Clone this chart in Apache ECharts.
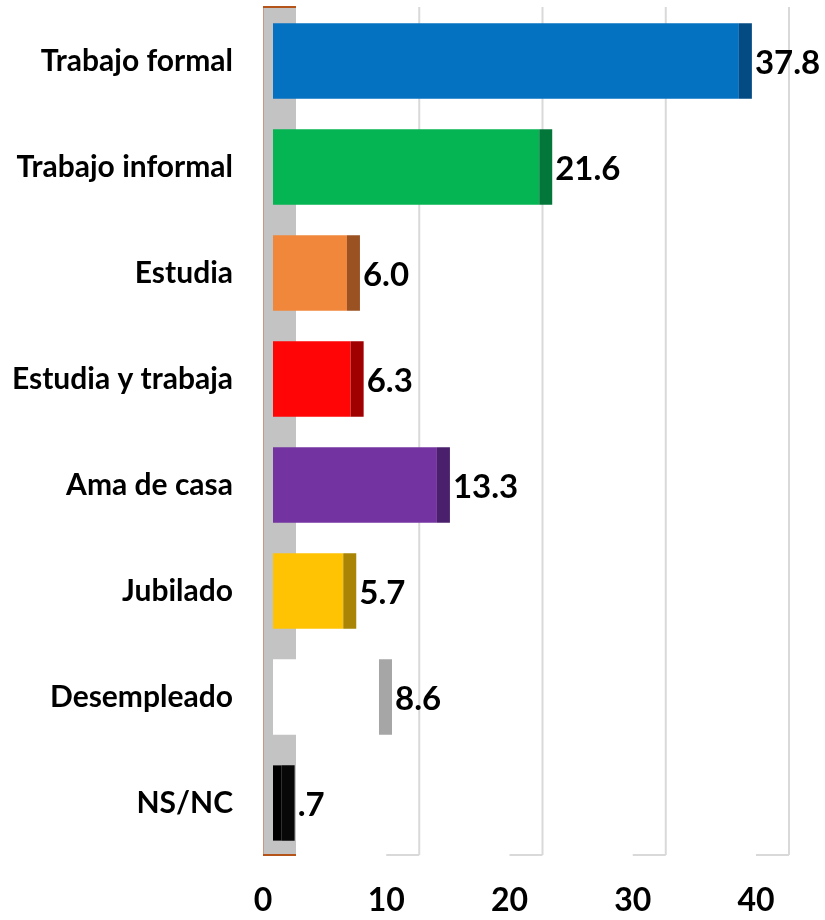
<!DOCTYPE html>
<html>
<head>
<meta charset="utf-8">
<style>
  html, body { margin: 0; padding: 0; background: #ffffff; }
  #chart { width: 825px; height: 920px; }
</style>
<script src="https://cdn.jsdelivr.net/npm/echarts@6/dist/echarts.min.js"></script>
</head>
<body>
<div id="chart"></div>
<script>
// Situación laboral (%)
const categories = ['Trabajo formal', 'Trabajo informal', 'Estudia', 'Estudia y trabaja',
                    'Ama de casa', 'Jubilado', 'Desempleado', 'NS/NC'];
const values = [37.8, 21.6, 6.0, 6.3, 13.3, 5.7, 8.6, 0.7];
const faceColors = ['#0571c1', '#05b452', '#f0873a', '#ff0505', '#7333a0', '#ffc304', '#ffffff', '#000000'];
const capColors  = ['#034b82', '#03773a', '#9a5222', '#a10000', '#4a1f6c', '#a98405', '#a6a6a6', '#080808'];
const xTicks = [0, 10, 20, 30, 40];

const FONT = 'Lato';
const DEPTH = 33;      // horizontal depth of the pseudo-3D wall
const BAR_OFF = 10;    // bar front face offset inside the depth
const CAP_W = 13;      // width of the darker end face
const BAR_FRAC = 0.71; // bar thickness relative to the category band

function fmt(v) {
  return v.toFixed(1).replace(/^0\./, '.');
}

const chart = echarts.init(document.getElementById('chart'), null, { renderer: 'canvas' });

chart.setOption({
  animation: false,
  backgroundColor: '#ffffff',
  grid: { left: 263, right: 69, top: 8, bottom: 64, containLabel: false },
  xAxis: {
    type: 'value', min: 0, max: 40, interval: 10,
    axisLine: { show: false }, axisTick: { show: false }, splitLine: { show: false },
    axisLabel: { color: '#000', fontFamily: FONT, fontWeight: 'bold', fontSize: 32, margin: 29 }
  },
  yAxis: {
    type: 'category', data: categories, inverse: true,
    axisLine: { show: false }, axisTick: { show: false }, splitLine: { show: false },
    axisLabel: { color: '#000', fontFamily: FONT, fontWeight: 'bold', fontSize: 30, margin: 30 }
  },
  series: [
    {
      // back wall gridlines and floor edges
      type: 'custom', name: 'grid', silent: true, z: 1,
      data: xTicks.map(t => [t]),
      encode: { x: 0 },
      renderItem: function (params, api) {
        const cs = params.coordSys;
        const xf = api.coord([api.value(0), 0])[0];
        const xb = xf + DEPTH;
        const top = cs.y - 1, bot = cs.y + cs.height - 1;
        if (api.value(0) === 0) {
          return {
            type: 'group',
            children: [
              { type: 'rect', shape: { x: xf, y: top, width: DEPTH, height: bot - top },
                style: { fill: '#c3c3c3' } },
              { type: 'line', shape: { x1: xf + 0.5, y1: top, x2: xf + 0.5, y2: bot },
                style: { stroke: '#c79a80', lineWidth: 1 } },
              { type: 'line', shape: { x1: xf, y1: top, x2: xb, y2: top },
                style: { stroke: '#b5541a', lineWidth: 2 } },
              { type: 'line', shape: { x1: xf, y1: bot, x2: xb, y2: bot },
                style: { stroke: '#b5541a', lineWidth: 2 } }
            ]
          };
        }
        return {
          type: 'group',
          children: [
            { type: 'line', shape: { x1: xb, y1: top, x2: xb, y2: bot },
              style: { stroke: '#d9d9d9', lineWidth: 2 } },
            { type: 'line', shape: { x1: xf, y1: bot, x2: xb, y2: bot },
              style: { stroke: '#d9d9d9', lineWidth: 2 } }
          ]
        };
      }
    },
    {
      type: 'custom', name: 'Situación', z: 2,
      data: values.map((v, i) => [v, i]),
      encode: { x: 0, y: 1 },
      renderItem: function (params, api) {
        const i = params.dataIndex;
        const v = api.value(0);
        const p0 = api.coord([0, api.value(1)]);
        const p1 = api.coord([v, api.value(1)]);
        const band = api.size([0, 1])[1];
        const h = band * BAR_FRAC;
        const y = p0[1] - h / 2;
        const x0 = p0[0] + BAR_OFF;
        const x1 = p1[0] + BAR_OFF;
        return {
          type: 'group',
          children: [
            { type: 'rect', shape: { x: x0, y: y, width: x1 - x0, height: h },
              style: { fill: faceColors[i] } },
            { type: 'rect', shape: { x: x1, y: y, width: CAP_W, height: h },
              style: { fill: capColors[i] } },
            { type: 'text', x: x1 + CAP_W + 3, y: p0[1] + 2,
              style: { text: fmt(v), fill: '#000', font: 'bold 33px ' + FONT,
                       align: 'left', verticalAlign: 'middle' } }
          ]
        };
      }
    }
  ]
});
</script>
</body>
</html>
